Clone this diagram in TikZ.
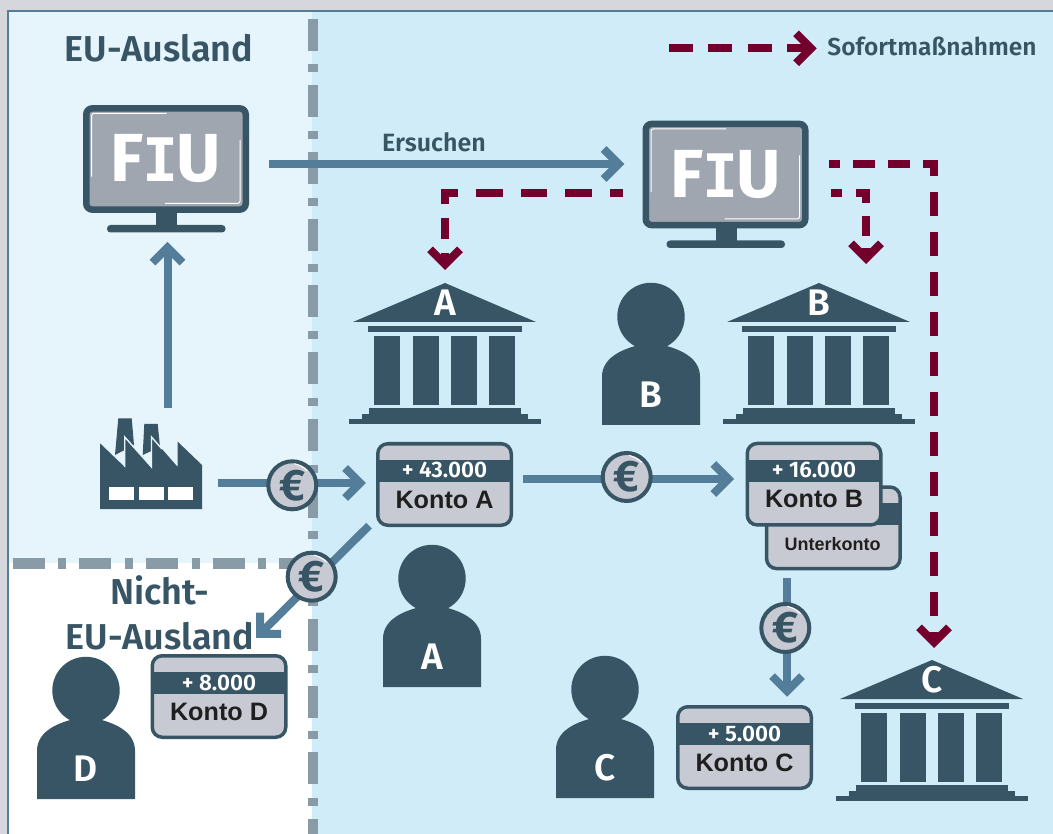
\documentclass[tikz,border=0pt]{standalone}
\usepackage{fontspec}
\setmainfont{Fira Sans}
\newfontfamily\semif{Fira Sans SemiBold}
\newfontfamily\arialf{Liberation Sans}
\newfontfamily\monof{DejaVu Sans Mono}
\usetikzlibrary{arrows.meta,calc}
\definecolor{dark}{HTML}{385565}
\definecolor{steel}{HTML}{537D98}
\definecolor{wine}{HTML}{73002C}
\definecolor{dashgray}{HTML}{8A9BA8}
\definecolor{screen}{HTML}{9FA6AF}
\definecolor{cardc}{HTML}{C7CAD2}
\definecolor{rightbg}{HTML}{D0ECF8}
\definecolor{leftbg}{HTML}{E6F4FB}
\definecolor{outerbg}{HTML}{D6D7DC}
\pgfdeclarelayer{back}\pgfdeclarelayer{mid}\pgfsetlayers{back,mid,main}
\newcommand{\fsz}[1]{\fontsize{#1}{#1}\selectfont}
\tikzset{
  flow/.style={draw=steel,line width=8pt,-{Straight Barb[length=15pt,width=30pt,line width=8pt]}},
  urgent/.style={draw=wine,line width=8pt,-{Straight Barb[length=15pt,width=30pt,line width=8pt]}},
  title/.style={text=dark,font=\semif\fsz{36},inner sep=0pt,anchor=base},
  letter/.style={text=white,font=\semif\fsz{37},inner sep=0pt,anchor=base},
  monitor/.style={draw=dark,fill=screen,line width=6.5pt,rounded corners=6pt,minimum width=159.5pt,minimum height=101.2pt,inner sep=0pt,outer sep=0pt,text=white,font=\bfseries\fsz{68}},
  card/.style={draw=dark,fill=cardc,line width=3.5pt,rounded corners=10pt,minimum width=133.5pt,minimum height=81.5pt,inner sep=0pt,outer sep=0pt},
  amount/.style={text=white,font=\semif\fsz{22.5},inner sep=0pt,anchor=base},
  kname/.style={text=black!88,font=\arialf\bfseries\fsz{25.2},inner sep=0pt,anchor=base},
  coin/.style={circle,draw=dark,fill=cardc,line width=4pt,minimum size=48pt,inner sep=0pt,outer sep=0pt,text=dark,font=\bfseries\fsz{44}},
  gline/.style={draw=dashgray,line width=10.5pt,dash pattern=on 32pt off 13.7pt on 8pt off 13pt},
}
\newcommand{\fiu}[3]{% name, x, y of centre
  \node[monitor] (#1) at (#2,#3) {F\kern-1pt{\monof\fsz{60}I}\kern-2pt U};
  \begin{scope}[shift={(#2,#3)}]
    \fill[dark] (-10,48) rectangle (11,68);
    \fill[dark,rounded corners=3.5pt] (-59,66) rectangle (59.5,73.5);
    \draw[white,line width=1pt,rounded corners=2pt] (0.7,-45.5) -- (-74.3,-45.5) -- (-74.3,17.7);
    \draw[white,line width=1pt,rounded corners=2pt] (74,-19) -- (74,44.3) -- (-1,44.3);
  \end{scope}
}
\newcommand{\bank}[4]{% node name, dx, dy, letter
  \begin{scope}[shift={(#2,#3)}]
    \fill[dark] (445,283) -- (536,322) -- (353,322) -- cycle;
    \fill[dark] (368,326) rectangle (522,332);
    \foreach \cx in {374,413,451,489} \fill[dark] (\cx,336) rectangle ++(26,69);
    \fill[dark] (368.7,408.3) rectangle (521.3,413.7);
    \fill[dark] (362,413.7) rectangle (528,418.7);
    \fill[dark] (349,418.7) rectangle (541,423.7);
    \node[letter] (#1) at (445,315.7) {#4};
  \end{scope}
}
\newcommand{\person}[4]{% node name, cx, head y, letter
  \begin{scope}[shift={(#2,#3)}]
    \fill[dark] (0,1.5) circle[radius=33.7pt];
    \fill[dark] (-49,110) -- (-49,62) .. controls (-49,44) and (-32,35) .. (-12,30) -- (12,30) .. controls (32,35) and (49,44) .. (49,62) -- (49,110) -- cycle;
    \node[letter] (#1) at (0,92) {#4};
  \end{scope}
}
\newcommand{\konto}[5]{% name, cx, cy, amount, label
  \node[card] (#1) at (#2,#3) {};
  \fill[dark] ($(#2,#3)+(-66.75,-24.5)$) rectangle ($(#2,#3)+(66.75,-2.5)$);
  \node[amount] (#1amt) at ($(#2,#3)+(0,-6.5)$) {#4};
  \node[kname] (#1lbl) at ($(#2,#3)+(0,23.5)$) {#5};
}
\newcommand{\eurocoin}[3]{% name, x, y
  \node[coin] (#1) at (#2,#3) {€};
  \draw[white,line width=1pt] ($(#2,#3)+(2,-21.6)$) .. controls ($(#2,#3)+(7,-20.5)$) and ($(#2,#3)+(11.5,-18)$) .. ($(#2,#3)+(15,-14.5)$);
}
\begin{document}
\begin{tikzpicture}[x=1pt,y=-1pt]
\useasboundingbox (0,0) rectangle (1053,834);
\begin{pgfonlayer}{back}
  \fill[outerbg] (0,0) rectangle (1053,834);
  \fill[leftbg] (9,12) rectangle (312,563);
  \fill[white] (9,563) rectangle (312,834);
  \fill[rightbg] (312,12) rectangle (1053,834);
  \fill[steel] (7,10) rectangle (1053,12.5);
  \fill[steel] (7,10) rectangle (9,834);
  \draw[gline] (313,18.7) -- (313,834);
  \draw[gline] (12.5,563.7) -- (300,563.7);
\end{pgfonlayer}

% labels
\node[title] (euTitle) at (159,62) {EU-Ausland};
\node[title] (nichtA) at (160,604) {Nicht-};
\node[title] (nichtB) at (160,649) {EU-Ausland};
\node[text=dark,font=\semif\fsz{25},inner sep=0pt,anchor=base] (ersuchen) at (434,151.7) {Ersuchen};
\node[text=dark,font=\semif\fsz{24.5},inner sep=0pt,anchor=base] (sofort) at (932,56) {Sofortmaßnahmen};

% monitors
\fiu{fiuA}{166}{159}
\fiu{fiuB}{725.5}{174.5}

% banks and persons
\bank{bankA}{0}{0}{A}
\bank{bankB}{374}{0}{B}
\bank{bankC}{487}{377}{C}
\person{persB}{651}{315}{B}
\person{persA}{432}{577}{A}
\person{persC}{605}{688}{C}
\person{persD}{86}{689}{D}

% factory
\node[minimum width=102pt,minimum height=91pt,inner sep=0pt,outer sep=0pt] (fab) at (151,463.5) {};
\fill[dark] (118.3,418.3) -- (131.7,418.3) -- (134,445) -- (115,455) -- cycle;
\fill[dark] (144.3,424) -- (157.7,424) -- (160,447) -- (142.7,455) -- cycle;
\fill[dark] (100,509) -- (100,443.3) -- (124.7,467) -- (124.7,437) -- (151.5,467) -- (151.5,437) -- (177.7,467) -- (177.7,441.7) -- (202,465) -- (202,509) -- cycle;
\draw[leftbg,line width=1.4pt] (124.7,467) -- (124.7,437) -- (151.5,467) -- (151.5,437) -- (162,449);
\fill[white] (109,487) rectangle (134,500);
\fill[white] (139,487) rectangle (164,500);
\fill[white] (168,487) rectangle (193,500);

% accounts
\konto{kontoU}{833.3}{527.8}{}{}
\node[text=black!88,font=\arialf\bfseries\fsz{18},inner sep=0pt,anchor=base] (unter) at (832.7,550) {Unterkonto};
\konto{kontoB}{814}{484.2}{+ 16.000}{Konto B}
\konto{kontoA}{444.5}{484.5}{+ 43.000}{Konto A}
\konto{kontoC}{744.5}{747.5}{+ 5.000}{Konto C}
\konto{kontoD}{219}{696.5}{+ 8.000}{Konto D}

% coins
\eurocoin{coinF}{292.3}{485.3}
\eurocoin{coinA}{626.7}{477}
\eurocoin{coinB}{785.3}{628}
\eurocoin{coinD}{311.7}{576.7}

% connectors
\begin{pgfonlayer}{mid}
  \draw[flow] ($(fab.north)+(16.5,-10)$) -- ($(fiuA.south)+(1.5,32.4)$);
  \draw[flow] ($(fiuA.east)+(23.25,5)$) -- ($(fiuB.west)+(-21.45,-10.5)$);
  \draw[flow] ($(fab.east)+(16.3,19.5)$) -- ($(kontoA.west)+(-12,-1.5)$);
  \draw[flow] ($(kontoA.east)+(11.75,-5.5)$) -- ($(kontoB.west)+(-13.25,-5.2)$);
  \draw[flow] ($(kontoU.south)+(-46.3,9.45)$) -- ($(kontoC.north)+(42.5,-10)$);
  \draw[flow] ($(kontoA.south west)+(-8.75,0.45)$) -- ($(kontoD.north)+(37,-18)$);
  \draw[urgent,dash pattern=on 13.5pt off 18.3pt on 26.5pt off 18pt on 26.5pt off 18pt on 26.5pt off 18pt on 24pt off 14pt on 21.5pt off 14pt on 40pt off 1pt]
    ($(fiuB.west)+(-22.45,18.5)$) -| ($(bankA.base)+(0,-45.7)$);
  \draw[urgent,dash pattern=on 11pt off 13.5pt on 21pt off 12.5pt on 20pt off 12pt on 40pt off 1pt]
    ($(fiuB.east)+(25.75,18.5)$) -| ($(bankB.base)+(47,-51.7)$);
  \draw[urgent,dash pattern=on 11pt off 13pt on 22pt off 13pt on 22pt off 13pt on 23pt off 16pt on 24pt off 16pt on 24pt off 16pt on 24pt off 16pt on 24pt off 16pt on 24pt off 16pt on 24pt off 16pt on 24pt off 16pt on 24pt off 16pt on 24pt off 16pt on 24pt off 16pt on 24pt off 16pt on 40pt off 1pt]
    ($(fiuB.east)+(23.75,-10.5)$) -| ($(bankC.base)+(2,-44.7)$);
  \draw[urgent,dash pattern=on 24pt off 15.3pt on 24pt off 15.3pt on 24pt off 15.3pt on 40pt off 1pt]
    ($(sofort.base)+(-263,-7.7)$) -- ($(sofort.base)+(-115.3,-7.7)$);
\end{pgfonlayer}
\end{tikzpicture}
\end{document}
